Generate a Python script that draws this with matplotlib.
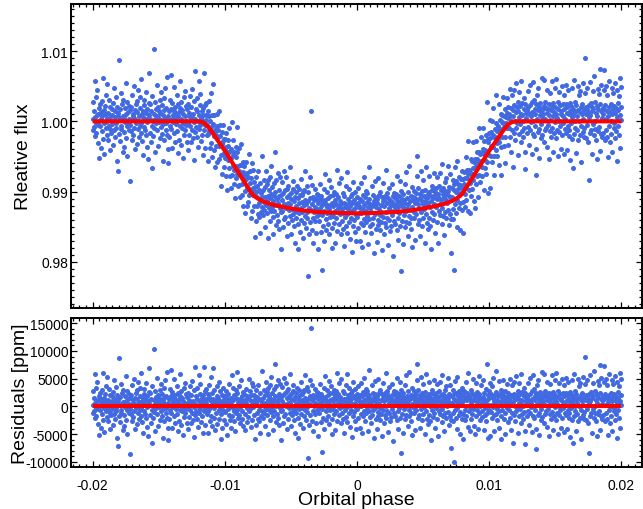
import numpy as np
import matplotlib
matplotlib.use("Agg")
import matplotlib.pyplot as plt
from matplotlib.ticker import MultipleLocator

plt.rcParams['font.family'] = ['Liberation Sans', 'DejaVu Sans']
plt.rcParams['axes.unicode_minus'] = False

# phase range of the (uniformly sampled) light curve
phase_start, phase_end = -0.02, 0.02

# transit model
model_phase = [-0.0200, -0.0120, -0.0117, -0.0114, -0.0111, -0.0108, -0.0104, -0.0100,
               -0.0096, -0.0092, -0.0088, -0.0085, -0.0082, -0.0080, -0.0078, -0.0075,
               -0.0071, -0.0065, -0.0058, -0.0050, -0.0040, -0.0030, -0.0018, 0.0000,
               0.0018, 0.0030, 0.0040, 0.0050, 0.0058, 0.0065, 0.0071, 0.0075,
               0.0078, 0.0080, 0.0082, 0.0085, 0.0088, 0.0092, 0.0096, 0.0100,
               0.0104, 0.0108, 0.0111, 0.0114, 0.0117, 0.0120, 0.0200]
model_flux = [1.0000, 1.0000, 0.9999, 0.9995, 0.9988, 0.9980, 0.9969, 0.9958,
              0.9946, 0.9934, 0.9922, 0.9913, 0.9904, 0.9898, 0.9894, 0.9890,
              0.9886, 0.9882, 0.9879, 0.9876, 0.9873, 0.9871, 0.9870, 0.9869,
              0.9870, 0.9871, 0.9873, 0.9876, 0.9879, 0.9882, 0.9886, 0.9890,
              0.9894, 0.9898, 0.9904, 0.9913, 0.9922, 0.9934, 0.9946, 0.9958,
              0.9969, 0.9980, 0.9988, 0.9995, 0.9999, 1.0000, 1.0000]

# residuals in units of 100 ppm, read (roughly) off the lower panel
resid_hppm = [
    3, -12, 27, -8, 15, 58, -21, 6, -2, 34, -17, 9, 44, -5, 11, -31, 1, 19, -52, 24, -7, 13, -38, 4, 29, -14, 8, -25, 61, -3, 16, -46, 10, 22, -9, 37, -1, -19, 5, 53, -27, 12, -6, 31, 2, -11, 20, -41, 7, -16,
    18, -4, 9, -33, 26, 0, -13, 47, -22, 6, 14, -9, 35, -2, 21, -57, 7, -71, 12, -18, 87, 3, -28, 17, -6, 40, -11, 2, 24, -43, 8, 30, -15, 5, -36, 19, -1, 55, -24, 10, -7, 28, -49, 13, -3, 22, -12, 4, -85, 16,
    -5, 21, -14, 2, 38, -26, 11, 7, -19, 50, -9, 16, -40, 4, 25, -3, 13, -32, 29, 1, -11, 45, -22, 8, -6, 19, 34, -17, 60, -2, 10, -28, 15, -48, 6, 23, -8, 31, -13, 3, 42, -20, 12, -1, -37, 18, 5, -54, 26, 69,
    9, -16, 24, 3, -29, 14, -6, -66, 36, 1, -21, 11, 103, -10, 4, 27, -44, 17, -3, 8, 52, -13, 20, -35, 6, 15, -1, 30, -24, 12, -8, 41, 2, -18, 23, -56, 9, -4, 33, 16, -27, 5, 47, -12, 19, -2, 63, -20, 7, -39,
    -60, 14, 2, -23, 31, -7, 18, 66, -11, 4, 26, -38, 9, -1, 15, 49, -17, 6, -30, 21, -4, 11, 37, -14, 0, 24, -45, 8, 13, -26, 58, -6, 19, -33, 3, 28, -9, 16, -52, 10, -2, 34, -19, 7, 43, -12, 22, -5, 1, -29,
    17, -3, 25, -41, 8, 12, -19, 36, -7, 2, -30, 21, 5, -12, 46, -24, 10, -1, -55, 29, 71, -15, 4, 18, -8, 33, -22, 14, 0, -37, 9, 57, -11, 23, -5, 40, -28, 6, 15, -18, 3, -47, 20, 11, 71, -9, 27, -2, -34, 13,
    6, 31, -14, 1, 22, -48, -9, 17, 39, -4, 12, -26, 0, 53, -17, 8, 24, -35, 70, 14, -2, 29, -20, 7, -43, 11, 4, -11, 36, 19, -31, 5, 16, -6, 45, -23, 10, -1, 27, -59, -13, 3, 21, -38, 9, 33, -7, 14, -25, 2,
    -10, 18, 7, 28, -32, 3, -51, 13, 22, -5, 41, -15, 9, 0, -24, 16, -39, 4, 56, -18, 11, -3, 34, -8, -27, 20, 1, -44, 15, 30, -12, 25, -6, 62, -21, 8, 2, -16, 37, -1, 14, -30, 5, 47, -9, 19, -23, 10, 26, -36,
    4, 23, -13, 11, -42, 7, 32, -2, 18, -28, 15, 0, -19, 50, -8, 27, -5, 12, -37, 21, 3, 43, -24, 9, -1, 36, -15, 6, 20, -58, 14, -34, 8, 29, -11, 2, 17, -22, 39, -6, -26, 13, 1, -47, 24, 10, -17, 5, 64, -9,
    16, -20, 30, 0, -12, 21, -35, 7, 45, -4, 26, -15, 2, 33, -50, 11, 19, -7, 38, -24, 8, 54, -10, 14, -3, 25, -18, 5, -42, 31, 12, -9, 76, 19, -28, 1, 36, -14, 10, 47, -21, 4, 23, -33, 15, -2, 41, -8, 17, -61,
    10, 35, -6, 20, -29, 4, 52, -17, 2, 24, -13, 43, 0, 15, -40, 27, 7, -22, 31, -3, 18, -11, 59, 6, -36, 13, 22, -16, -1, 28, -8, 39, -25, 11, 17, -4, -48, 24, 5, -12, 33, 1, -20, 16, -56, 9, 29, -5, 21, -31,
    3, 44, -14, 22, -2, 12, -39, 26, 8, -18, 30, -7, 15, 57, -24, 10, -1, 35, -10, -93, 14, 27, -33, 5, 48, -16, 19, 142, 2, -27, 11, 38, -9, 21, -45, 16, 0, -13, 32, 7, -30, 18, 4, -6, 26, -53, 13, 24, -3, 17,
    -12, 40, 6, 23, 19, -28, 10, -82, -4, 15, -20, 33, 2, -41, 17, 55, -9, 12, -25, 8, 29, -1, 21, -17, 5, 46, -31, 11, 24, -7, 0, 37, -22, 14, -50, 9, 25, -5, 30, -14, 18, -43, 3, 27, -8, 13, 61, -26, 7, 1,
    22, -16, 8, 42, -2, 17, -30, 12, 49, -11, 5, -23, 28, 0, 14, -47, 24, -6, 9, 39, -19, 13, -1, 58, -28, 6, 20, -12, 34, 3, -37, 16, 10, -7, 25, -55, 15, 27, -18, 4, 44, -10, 19, -26, 7, 31, -3, 13, -40, 23,
    -5, 15, 36, -21, 11, 1, -39, 20, 8, -14, 43, 0, 18, -48, 26, 6, -17, 52, -8, 12, 23, -27, 3, 32, -12, 16, -4, 28, -44, 9, 20, -9, 66, -19, 7, 13, -29, 1, 38, -16, 10, 25, -7, 17, -57, 12, 46, -2, 22, -23,
    8, -41, 19, 14, -10, 50, -18, 5, 25, -3, 30, -24, 11, 1, -13, 22, -53, 16, 42, -6, 18, 9, -30, 24, -15, 60, 0, -21, 13, 28, -8, 21, -46, 6, 35, -11, 17, -27, 10, 2, -19, 40, 14, -4, 23, -62, 9, 27, -12, 20,
    3, -17, 26, 12, -25, 17, 51, -9, 7, -40, 22, -2, 14, 44, -20, -84, 10, 29, -14, 18, -47, 6, 24, -5, 16, 39, -23, 11, 0, 56, -15, 19, 4, -36, 27, 9, -7, 63, -18, 13, 1, -26, 21, -11, 33, 5, -52, 18, 15, -3,
    27, -12, 17, -43, 10, 23, -6, 47, 13, 76, -21, 8, 30, -16, 2, 21, -38, 15, 54, -4, 11, -25, 25, 7, -14, 41, -1, 18, -49, 10, 26, -9, 3, 58, -22, 14, 19, -31, 6, 22, -15, 44, 0, -27, 16, 9, -60, 24, -7, 29,
    12, -19, 48, 4, -11, 20, -39, 15, 25, -2, 41, -23, 9, 17, -54, 11, 27, -8, 1, 45, -14, 21, 7, -28, 57, -5, 14, 23, -17, 10, -44, 18, 30, -12, 5, 36, -21, 13, 0, 52, -10, 16, -33, 22, 8, -18, 39, 2, -25, -74,
    18, 6, -26, 29, -12, 14, -100, 22, -7, 46, 10, -20, 25, -3, 53, -41, 12, 19, -15, 4, 28, -10, 16, -49, 23, 2, -22, 33, 8, -13, 20, -58, 11, 27, -6, 17, -25, 44, 0, -18, 24, 11, -37, 15, 61, -9, 19, -1, -45, 13,
    -22, 30, 7, -14, 24, 50, -4, 12, -36, 18, 1, -49, 21, 10, -17, 43, -7, 26, 15, -40, 9, 22, -11, 55, 0, 16, -24, 5, 38, -19, 13, -8, 47, 17, -43, 8, 25, -2, 11, -16, 31, -26, 76, 4, -12, 20, -57, 14, 27, -6,
    -54, 17, 42, -10, 23, 3, -21, 37, -1, 15, 52, -16, 10, -45, 20, 7, 26, -13, 64, -5, 12, -24, 18, 0, -39, 46, -9, 22, 8, -18, 29, -59, 15, 24, -7, 11, 48, -23, 4, 19, -12, 27, -50, 14, 6, 41, -3, 17, -28, 9,
    25, -6, 14, 49, -20, 10, 21, -42, 2, 39, -11, 17, -65, 8, 45, -16, 23, 0, -26, 13, 55, -9, 20, -2, 28, -48, 15, 6, -18, 42, -4, 22, 11, -29, 58, -14, 9, 26, -23, 1, 18, -10, 33, -44, -68, 24, 12, 5, 16, -17,
    15, 43, -8, 20, -34, 10, 51, -12, 23, -1, 7, -46, 27, 13, -18, 56, 0, -21, 31, -7, 18, 11, -40, 24, -77, 4, 38, -15, 16, 47, -11, 21, -52, 9, 26, -4, 14, -24, 62, 6, -19, 17, 10, -30, 22, 59, -13, 3, 28, -9,
    19, -37, 12, 45, -5, 17, -53, 9, 24, -14, 40, 2, -22, 16, 57, -10, 21, -43, 7, 26, -17, 13, 48, -1, 20, -24, 10, 60, -12, 5, 27, -49, 17, 0, -15, 42, -7, 23, 11, -39, 14, 50, -20, 8, -3, 25, -46, 18, 38, -11,
    4, 24, -16, 52, -41, 12, 20, -6, 44, -21, 10, -12, 26, 15, -55, 22, -2, 47, 6, -25, -66, 18, 11, -18, 59, 1, -9, 27, -45, 14, 23, -13, 7, 50, -26, 16, 37, 0, 13, -20, 43, -7, 21, -58, 10, 25, -15, 54, 3, -23,
    16, -10, 40, 90, 20, -24, 11, 48, -5, 18, -29, 13, -84, 23, 6, -17, 56, 9, -12, 26, 21, -47, 15, 43, -4, 18, -20, 64, 0, -11, 27, 12, -26, 22, -53, 7, 46, -14, 17, 39, -8, 24, -42, 74, 14, -18, 52, 5, -22, 19,
    11, -16, 44, 18, 73, -27, 23, 3, -12, 50, 15, -22, 38, 8, -51, 20, 58, -6, 13, -29, 25, 0, -18, 47, 10, -44, 17, 40, -9, 22, -2, 55, -24, 12, 19, -14, 45, 6, -57, 26, 16, -7, 36, -20, 61, 9, -38, 21, 49, 2,
]

flux_ticks = [0.98, 0.99, 1.00, 1.01]
flux_tick_labels = ['0.98', '0.99', '1.00', '1.01']
resid_ticks = [-10000, -5000, 0, 5000, 10000, 15000]
phase_ticks = [-0.02, -0.01, 0.0, 0.01, 0.02]
phase_tick_labels = ['-0.02', '-0.01', '0', '0.01', '0.02']

resid = np.array(resid_hppm) * 100.0           # ppm
phase = np.linspace(phase_start, phase_end, len(resid))
flux = np.interp(phase, model_phase, model_flux) + resid * 1e-6

pt_color = '#4169E1'

fig = plt.figure(figsize=(6.43, 5.10), dpi=100)
ax1 = fig.add_axes([0.1104, 0.3941, 0.8888, 0.5961])
ax2 = fig.add_axes([0.1104, 0.0824, 0.8888, 0.2922])

ax1.scatter(phase, flux, s=13, color=pt_color, linewidths=0, zorder=2)
ax1.plot(model_phase, model_flux, color='red', lw=3, zorder=3, solid_capstyle='butt')
ax2.scatter(phase, resid, s=13, color=pt_color, linewidths=0, zorder=2)
ax2.plot([phase_start, phase_end], [0, 0], color='red', lw=3, zorder=3, solid_capstyle='butt')

for ax in (ax1, ax2):
    ax.set_xlim(-0.02164, 0.02159)
    ax.set_xticks(phase_ticks)
    ax.xaxis.set_minor_locator(MultipleLocator(0.0005))
    ax.tick_params(which='both', direction='in', top=True, right=True, width=0.9)
    ax.tick_params(which='major', length=4.3)
    ax.tick_params(which='minor', length=2.2)
    ax.tick_params(axis='x', labelsize=10, pad=8)
    ax.tick_params(axis='y', labelsize=10, pad=2)
    for sp in ax.spines.values():
        sp.set_linewidth(1.4)

ax1.set_ylim(0.97344, 1.01669)
ax1.set_yticks(flux_ticks, labels=flux_tick_labels)
ax1.yaxis.set_minor_locator(MultipleLocator(0.001))
ax1.set_xticklabels([])
ax1.set_ylabel('Rleative flux', fontsize=14)
ax1.yaxis.set_label_coords(-0.068, 0.5)

ax2.set_ylim(-10900, 15950)
ax2.set_yticks(resid_ticks)
ax2.yaxis.set_minor_locator(MultipleLocator(1000))
ax2.set_xticklabels(phase_tick_labels)
ax2.set_ylabel('Residuals [ppm]', fontsize=14)
ax2.yaxis.set_label_coords(-0.073, 0.5)
ax2.set_xlabel('Orbital phase', fontsize=14)
ax2.xaxis.set_label_coords(0.5, -0.16)

fig.savefig('out.png', dpi=100)
